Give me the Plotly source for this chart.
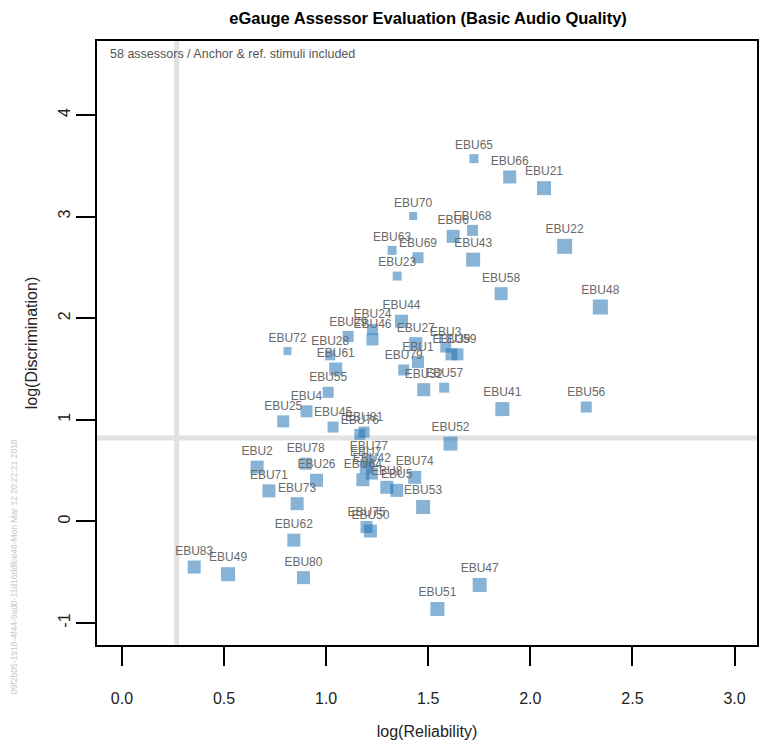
import plotly.graph_objects as go

# ---- data ----
assessors = ["EBU65", "EBU66", "EBU21", "EBU70", "EBU68", "EBU6", "EBU63", "EBU69", "EBU43", "EBU22",
             "EBU23", "EBU58", "EBU48", "EBU44", "EBU24", "EBU46", "EBU29", "EBU72", "EBU28", "EBU61",
             "EBU55", "EBU4", "EBU25", "EBU45", "EBU81", "EBU76", "EBU27", "EBU1", "EBU79", "EBU3",
             "EBU39", "EBU59", "EBU32", "EBU57", "EBU41", "EBU56", "EBU52", "EBU2", "EBU78", "EBU26",
             "EBU71", "EBU73", "EBU62", "EBU77", "EBU7", "EBU42", "EBU64", "EBU8", "EBU5", "EBU74",
             "EBU53", "EBU75", "EBU50", "EBU83", "EBU49", "EBU80", "EBU51", "EBU47"]
log_reliability = [1.724, 1.899, 2.067, 1.426, 1.717, 1.622, 1.323, 1.450, 1.720, 2.168,
                   1.348, 1.857, 2.343, 1.369, 1.227, 1.227, 1.108, 0.811, 1.020, 1.047,
                   1.010, 0.904, 0.790, 1.034, 1.186, 1.165, 1.439, 1.450, 1.380, 1.586,
                   1.614, 1.643, 1.478, 1.578, 1.863, 2.274, 1.609, 0.662, 0.900, 0.953,
                   0.720, 0.858, 0.842, 1.209, 1.194, 1.224, 1.180, 1.297, 1.346, 1.434,
                   1.475, 1.198, 1.217, 0.354, 0.520, 0.889, 1.545, 1.752]
log_discrimination = [3.570, 3.390, 3.280, 3.005, 2.864, 2.805, 2.667, 2.595, 2.576, 2.707,
                      2.414, 2.241, 2.110, 1.970, 1.890, 1.790, 1.820, 1.676, 1.634, 1.500,
                      1.270, 1.083, 0.984, 0.928, 0.879, 0.856, 1.749, 1.568, 1.490, 1.716,
                      1.644, 1.644, 1.296, 1.316, 1.105, 1.125, 0.765, 0.534, 0.568, 0.404,
                      0.300, 0.174, -0.185, 0.590, 0.530, 0.470, 0.410, 0.335, 0.305, 0.433,
                      0.141, -0.056, -0.095, -0.450, -0.520, -0.554, -0.863, -0.626]
threshold_reliability = 0.268
threshold_discrimination = 0.821
x_ticks = [0.0, 0.5, 1.0, 1.5, 2.0, 2.5, 3.0]
y_ticks = [-1, 0, 1, 2, 3, 4]

# marker sizes (style)
marker_sizes = [9, 13, 14, 8, 11, 13, 9, 11, 14, 15,
                9, 13, 15, 13, 11, 12, 11, 8, 10, 13,
                11, 12, 12, 11, 11, 11, 13, 12, 11, 11,
                12, 12, 13, 10, 14, 11, 14, 13, 12, 13,
                13, 13, 13, 12, 12, 12, 13, 13, 13, 13,
                14, 12, 13, 13, 14, 13, 14, 14]

FONT = "Liberation Sans, Arial, sans-serif"

fig = go.Figure()
fig.add_trace(go.Scatter(
    x=log_reliability, y=log_discrimination, text=assessors,
    mode="markers+text", textposition="top center",
    textfont=dict(family=FONT, size=12, color="#6a6a6a"),
    marker=dict(symbol="square", size=marker_sizes, color="rgba(30,112,178,0.76)", line=dict(width=0)),
    cliponaxis=False, showlegend=False, hoverinfo="text",
))

fig.add_vline(x=threshold_reliability, line=dict(color="#e2e2e2", width=5), layer="below")
fig.add_hline(y=threshold_discrimination, line=dict(color="#e2e2e2", width=5), layer="below")

fig.update_layout(
    width=763, height=751,
    margin=dict(l=97, r=4, t=41, b=106),
    paper_bgcolor="white", plot_bgcolor="white",
    font=dict(family=FONT, color="black"),
    title=dict(text="<b>eGauge Assessor Evaluation (Basic Audio Quality)</b>",
               x=0.561, xanchor="center", y=0.976, yanchor="middle",
               font=dict(family=FONT, size=16.5, color="black")),
)
fig.update_xaxes(
    range=[-0.122, 3.11], tickvals=x_ticks, ticktext=[f"{v:.1f}" for v in x_ticks],
    showgrid=False, zeroline=False, showline=True, mirror=True, linecolor="black", linewidth=1.5,
    ticks="outside", ticklen=19, tickwidth=1.5, tickcolor="black", ticklabelstandoff=19,
    tickfont=dict(family=FONT, size=16, color="#222"),
    title=dict(text="log(Reliability)", font=dict(family=FONT, size=16, color="#222"), standoff=20),
)
fig.update_yaxes(
    range=[-1.217, 4.728], tickvals=y_ticks, ticktext=[str(v) for v in y_ticks],
    showgrid=False, zeroline=False, showline=True, mirror=True, linecolor="black", linewidth=1.5,
    ticks="outside", ticklen=19, tickwidth=1.5, tickcolor="black", tickangle=-90, ticklabelstandoff=0,
    tickfont=dict(family=FONT, size=16, color="#222"),
    title=dict(text="log(Discrimination)", font=dict(family=FONT, size=16, color="#222"), standoff=14),
)

fig.add_annotation(text="58 assessors / Anchor & ref. stimuli included",
                   xref="paper", yref="paper", x=0.016, y=0.978, xanchor="left", yanchor="middle",
                   showarrow=False, font=dict(family=FONT, size=12.5, color="#555"))
fig.add_annotation(text="09f2b05-1918-4f44-9ad0-11d16ddfce48-Mon Mar 12 20:22:21 2018",
                   xref="paper", yref="paper", x=-0.125, y=0.13, xanchor="center", yanchor="middle",
                   textangle=-90, showarrow=False, font=dict(family=FONT, size=8.5, color="#c8c8c8"))

fig.write_html("out.html")
